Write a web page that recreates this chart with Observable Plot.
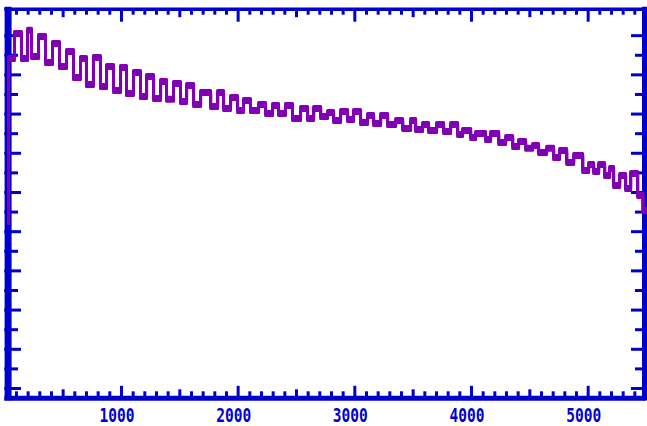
<!DOCTYPE html>
<html><head><meta charset="utf-8">
<script src="https://cdn.jsdelivr.net/npm/d3@7"></script>
<script src="https://cdn.jsdelivr.net/npm/@observablehq/plot@0.6"></script>
<style>html,body{margin:0;padding:0;background:#fff;overflow:hidden}</style>
</head><body><div id="chart"></div>
<script>
// step-series (x in channel units, y in counts)
const xValues = [
  32,32,83,143,195,229,289,349,409,469,
  529,589,649,700,760,820,872,932,992,1043,
  1103,1163,1215,1275,1335,1386,1446,1506,1558,1618,
  1678,1764,1824,1875,1935,1995,2046,2106,2175,2235,
  2295,2346,2406,2466,2535,2595,2647,2707,2767,2818,
  2878,2938,2989,3049,3109,3161,3221,3281,3350,3410,
  3478,3521,3581,3632,3701,3761,3821,3881,3924,3993,
  4035,4121,4164,4233,4293,4353,4404,4464,4524,4575,
  4644,4704,4755,4816,4876,4953,5004,5047,5090,5141,
  5184,5218,5270,5321,5364,5424,5470,5493
];
const yValues = [
  902,1734,1861,1734,1877,1744,1846,1713,1810,1693,
  1769,1637,1734,1601,1739,1591,1693,1570,1688,1555,
  1662,1540,1642,1530,1616,1525,1606,1514,1596,1499,
  1560,1489,1560,1479,1535,1468,1519,1468,1499,1453,
  1494,1453,1494,1428,1479,1428,1479,1438,1458,1417,
  1463,1422,1463,1407,1443,1402,1443,1397,1417,1377,
  1417,1371,1397,1366,1397,1361,1397,1346,1366,1331,
  1351,1320,1351,1305,1331,1285,1310,1275,1290,1254,
  1275,1229,1264,1203,1239,1162,1193,1157,1193,1137,
  1172,1086,1137,1070,1147,1035,958,958
];
const xMajorTicks = [1000,2000,3000,4000,5000];
const xTickLabels = ["1000","2000","3000","4000","5000"];
const xMidTicks = [500,1500,2500,3500,4500];
const xMinorTicks = [100,200,300,400,600,700,800,900,1100,1200,1300,1400,1600,1700,1800,1900,
  2100,2200,2300,2400,2600,2700,2800,2900,3100,3200,3300,3400,3600,3700,3800,3900,
  4100,4200,4300,4400,4600,4700,4800,4900,5100,5200,5300,5400];
const yLongTicks = [50,250,450,650,850,1050,1250,1450,1650,1850];
const yShortTicks = [150,350,550,750,950,1150,1350,1550,1750];
const xDomain = [0, 5500];
const yDomain = [0, 1985];

const series = xValues.map((x, i) => ({x, y: yValues[i]}));
const labels = xMajorTicks.map((x, i) => ({x, label: xTickLabels[i]}));

const BLUE = "#0000cc";
const PURPLE = "#8000b4";
const FH = 389.1; // inner frame height
const FW = 641.7; // inner frame width

const lineOpts = {x: "x", y: "y", curve: "step-after", stroke: PURPLE, strokeWidth: 3, strokeLinecap: "square"};

const svg = Plot.plot({
  width: 647, height: 426,
  marginLeft: 4.3, marginRight: 1, marginTop: 8.7, marginBottom: 28.2,
  x: {domain: xDomain, axis: null},
  y: {domain: yDomain, axis: null},
  style: {background: "white", overflow: "visible"},
  marks: [
    // frame
    Plot.ruleX([xDomain[0]], {x: d => d, y1: -12, y2: 1995, stroke: BLUE, strokeWidth: 7, dx: 3.3}),
    Plot.ruleX([xDomain[1]], {x: d => d, y1: -12, y2: 1995, stroke: BLUE, strokeWidth: 5, dx: -2}),
    Plot.ruleY([yDomain[0]], {y: d => d, stroke: BLUE, strokeWidth: 5}),
    Plot.ruleY([yDomain[1]], {y: d => d, stroke: BLUE, strokeWidth: 3.5}),
    // bottom ticks (inward)
    Plot.tickX(xMinorTicks, {x: d => d, stroke: BLUE, strokeWidth: 3, insetTop: FH - 6.5}),
    Plot.tickX(xMidTicks, {x: d => d, stroke: BLUE, strokeWidth: 3, insetTop: FH - 8.5}),
    Plot.tickX(xMajorTicks, {x: d => d, stroke: BLUE, strokeWidth: 3, insetTop: FH - 12}),
    // top ticks (inward)
    Plot.tickX(xMinorTicks, {x: d => d, stroke: BLUE, strokeWidth: 3, insetBottom: FH - 6}),
    Plot.tickX(xMidTicks, {x: d => d, stroke: BLUE, strokeWidth: 3, insetBottom: FH - 8.5}),
    Plot.tickX(xMajorTicks, {x: d => d, stroke: BLUE, strokeWidth: 3, insetBottom: FH - 13}),
    // left ticks
    Plot.tickY(yLongTicks, {y: d => d, stroke: BLUE, strokeWidth: 3, insetRight: FW - 16.7}),
    Plot.tickY(yShortTicks, {y: d => d, stroke: BLUE, strokeWidth: 3, insetRight: FW - 13.7}),
    // right ticks
    Plot.tickY(yLongTicks, {y: d => d, stroke: BLUE, strokeWidth: 3, insetLeft: FW - 15}),
    Plot.tickY(yShortTicks, {y: d => d, stroke: BLUE, strokeWidth: 3, insetLeft: FW - 11}),
    // series (drawn thick horizontally, thin vertically)
    Plot.line(series, {...lineOpts, dy: -2}),
    Plot.line(series, {...lineOpts}),
    Plot.line(series, {...lineOpts, dy: 2}),
    // tick labels
    Plot.text(labels, {x: "x", text: "label", frameAnchor: "bottom", dy: 18, dx: -4.5,
      lineAnchor: "middle", fill: BLUE, fontSize: 19, fontWeight: "bold",
      fontFamily: "DejaVu Sans Mono"})
  ]
});
d3.select(svg).selectAll("text")
  .attr("textLength", 35).attr("lengthAdjust", "spacingAndGlyphs");
document.getElementById("chart").appendChild(svg);
</script>
</body></html>
